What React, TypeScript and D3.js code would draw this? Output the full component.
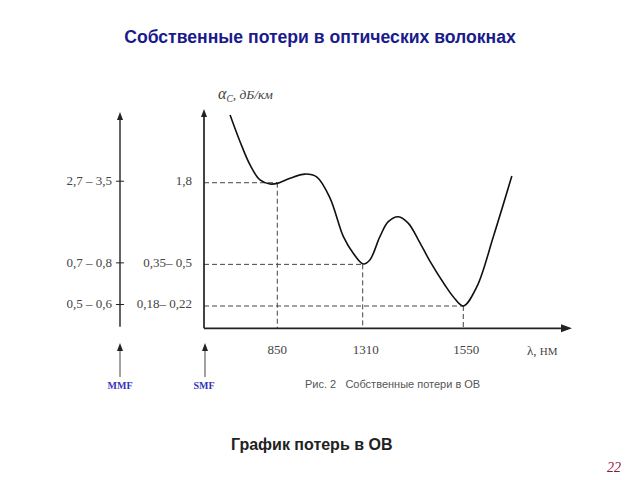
import React from "react";
import * as d3 from "d3";

// Curve data (schematic): wavelength, nm and intrinsic loss, dB/km
const wavelengths = [689, 723, 757, 791, 825, 850, 918, 999, 1062, 1134, 1206, 1259, 1311, 1327, 1351, 1371, 1395, 1419, 1443, 1471, 1506, 1526, 1550, 1583, 1623, 1668];
const losses = [6.02, 3.74, 2.47, 1.89, 1.76, 1.78, 1.95, 2.1, 2.0, 1.37, 0.688, 0.512, 0.423, 0.454, 0.688, 0.899, 0.982, 0.873, 0.648, 0.441, 0.291, 0.236, 0.2, 0.282, 0.688, 2.03];

// Transparency windows
const windowWavelengths = [850, 1310, 1550];
const xTickLabels = ["850", "1310", "1550"];
const levelValues = [1.8, 0.42, 0.2];
const smfLabels = ["1,8", "0,35– 0,5", "0,18– 0,22"];
const mmfLabels = ["2,7 – 3,5", "0,7 – 0,8", "0,5 – 0,6"];

const title = "Собственные потери в оптических волокнах";
const subtitle = "График потерь в ОВ";
const caption = "Рис. 2   Собственные потери в ОВ";
const pageNumber = "22";

const SERIF = "'Liberation Serif', 'Times New Roman', serif";
const SANS = "'Liberation Sans', Arial, sans-serif";

export default function App() {
  const x0 = 204;
  const y0 = 328.3;
  const mmfX = 120;

  const x = d3
    .scaleLinear()
    .domain([600, 850, 1310, 1550, 1700])
    .range([x0, 277.3, 362.7, 463.3, 525]);
  const y = d3.scaleLog().domain([0.1344, 6.58]).range([y0, 110]);

  const pts: [number, number][] = wavelengths.map((w, i) => [w, losses[i]]);
  const line = d3
    .line<[number, number]>()
    .x((d) => x(d[0]))
    .y((d) => y(d[1]))
    .curve(d3.curveCatmullRom.alpha(0.5));

  const arrowUp = (cx: number, tip: number) =>
    `M${cx},${tip} L${cx - 3},${tip + 8} L${cx + 3},${tip + 8} Z`;
  const arrowRight = (tip: number, cy: number) =>
    `M${tip},${cy} L${tip - 11},${cy - 4} L${tip - 11},${cy + 4} Z`;

  const axisColor = "#222";
  const labelColor = "#444";

  return (
    <svg
      width={640}
      height={480}
      style={{ position: "absolute", left: 0, top: 0, background: "#fff" }}
    >
      <rect width={640} height={480} fill="#fff" />
      {/* Title */}
      <text x={320} y={43} textAnchor="middle" fontFamily={SANS} fontWeight="bold" fontSize={17.6} fill="#1a1a8c">
        {title}
      </text>

      {/* Dashed guide lines */}
      {levelValues.map((v, i) => (
        <g key={"g" + i} stroke="#444" strokeWidth={1} strokeDasharray="5,3" fill="none">
          <line x1={x0} x2={x(windowWavelengths[i])} y1={y(v)} y2={y(v)} />
          <line x1={x(windowWavelengths[i])} x2={x(windowWavelengths[i])} y1={y(v)} y2={y0} />
        </g>
      ))}

      {/* Main axes (SMF axis = y axis) */}
      <line x1={x0} x2={x0} y1={y0} y2={116} stroke={axisColor} strokeWidth={1.7} />
      <path d={arrowUp(x0, 109)} fill={axisColor} />
      <line x1={x0} x2={562} y1={y0} y2={y0} stroke={axisColor} strokeWidth={1.7} />
      <path d={arrowRight(572, y0)} fill={axisColor} />

      {/* Curve */}
      <path d={line(pts) || ""} fill="none" stroke="#111" strokeWidth={1.6} />

      {/* X tick labels */}
      {windowWavelengths.map((w, i) => (
        <text key={"xt" + i} x={x(w) + (i === 0 ? 0 : 3)} y={354} textAnchor="middle" fontFamily={SERIF} fontSize={13} fill={labelColor}>
          {xTickLabels[i]}
        </text>
      ))}
      <text x={527} y={355} fontFamily={SERIF} fontSize={13} fill={labelColor}>
        λ, <tspan fontSize={11}>НМ</tspan>
      </text>

      {/* Y axis label */}
      <text x={218} y={99} fontFamily={SERIF} fontStyle="italic" fontSize={13.5} fill={labelColor}>
        <tspan fontSize={16}>α</tspan>
        <tspan fontSize={9.5} dy={3}>C</tspan>
        <tspan dy={-3}>, дБ/км</tspan>
      </text>

      {/* SMF level labels */}
      {levelValues.map((v, i) => (
        <text key={"s" + i} x={192} y={y(v) + 2.5} textAnchor="end" fontFamily={SERIF} fontSize={13} fill={labelColor}>
          {smfLabels[i]}
        </text>
      ))}

      {/* MMF axis */}
      <line x1={mmfX} x2={mmfX} y1={326.7} y2={119} stroke={axisColor} strokeWidth={1.4} />
      <path d={arrowUp(mmfX, 112)} fill={axisColor} />
      {levelValues.map((v, i) => (
        <g key={"m" + i}>
          <line x1={mmfX - 4} x2={mmfX + 4} y1={y(v) - 1.5} y2={y(v) - 1.5} stroke={axisColor} strokeWidth={1} />
          <text x={112} y={y(v) + 2.5} textAnchor="end" fontFamily={SERIF} fontSize={13} fill={labelColor}>
            {mmfLabels[i]}
          </text>
        </g>
      ))}

      {/* Bottom arrows and fibre type labels */}
      <line x1={mmfX} x2={mmfX} y1={377} y2={350} stroke="#444" strokeWidth={1} />
      <path d={arrowUp(mmfX, 343)} fill={axisColor} />
      <line x1={x0 + 1} x2={x0 + 1} y1={377} y2={350} stroke="#444" strokeWidth={1} />
      <path d={arrowUp(x0 + 1, 343)} fill={axisColor} />
      <text x={mmfX} y={389} textAnchor="middle" fontFamily={SERIF} fontWeight="bold" fontSize={10} fill="#3434b8">
        MMF
      </text>
      <text x={x0} y={389} textAnchor="middle" fontFamily={SERIF} fontWeight="bold" fontSize={10} fill="#3434b8">
        SMF
      </text>

      {/* Caption */}
      <text x={305} y={388} fontFamily={SANS} fontSize={11} fill="#555" style={{ whiteSpace: "pre" }}>
        {caption}
      </text>

      {/* Subtitle */}
      <text x={311.7} y={450} textAnchor="middle" fontFamily={SANS} fontWeight="bold" fontSize={16} fill="#222">
        {subtitle}
      </text>

      {/* Page number */}
      <text x={621} y={472} textAnchor="end" fontFamily={SERIF} fontStyle="italic" fontSize={14} fill="#8b1a3c">
        {pageNumber}
      </text>
    </svg>
  );
}
